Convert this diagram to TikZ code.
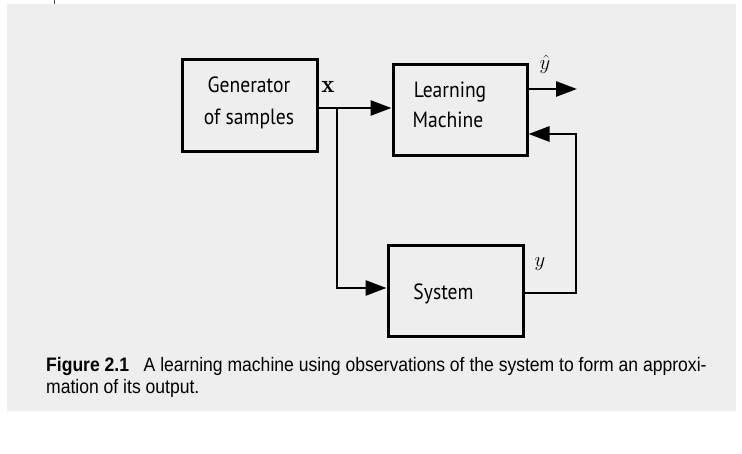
\documentclass[tikz,border=0pt]{standalone}
\usepackage{fontspec}
\usetikzlibrary{arrows.meta}
\newfontfamily\boxfont[FakeStretch=0.89]{PT Sans}
\newfontfamily\capfont[FakeStretch=0.9]{Liberation Sans}
\definecolor{pagegrey}{RGB}{238,238,238}
\begin{document}
\begin{tikzpicture}[x=1pt,y=-1pt,
  blk/.style={draw=black,line width=3pt,inner sep=0pt,fill=none},
  blktext/.style={font=\boxfont\fontsize{22}{30}\selectfont,anchor=base,inner sep=0pt},
  conn/.style={line width=2.7pt,draw=black},
  arr/.style={conn,-{Triangle[length=21pt,width=15pt]}},
  lbl/.style={inner sep=0pt},
  captxt/.style={font=\capfont\fontsize{19.5}{23}\selectfont,anchor=base west,inner sep=0pt}]
\useasboundingbox (0,0) rectangle (742,454);
\fill[white] (0,0) rectangle (742,454);
\fill[pagegrey] (7,4) rectangle (736,411);
\draw[line width=0.8pt,black!70] (54,0) -- (54,4);

% blocks
\node[blk,minimum width=135pt,minimum height=92pt] (gen) at (249.5,106) {};
\node[blk,minimum width=134pt,minimum height=91pt] (lm)  at (460,110.5) {};
\node[blk,minimum width=135pt,minimum height=91pt] (sys) at (455.5,291.5) {};

% block texts
\node[blktext] (gen1) at (249,93) {Generator};
\node[blktext] (gen2) at (249,125) {of samples};
\node[blktext] (lm1) at (450,98) {Learning};
\node[blktext] (lm2) at (448,128) {Machine};
\node[blktext] (systxt) at (443.5,300) {System};

% labels
\node[lbl,font=\fontsize{25}{28}\selectfont] (xl) at (328,87) {$\mathbf{x}$};
\node[lbl,font=\fontsize{21}{24}\selectfont] (yhl) at (545,64) {$\hat{y}$};
\node[lbl,font=\fontsize{21}{24}\selectfont] (yl) at (540,264) {$y$};

% connectors
\coordinate (br) at (337,108);
\coordinate (bs) at (337,288);
\coordinate (yout) at (577,89);
\coordinate (fbtop) at (576,134);
\coordinate (fbbot) at (576,293);
\draw[arr] (gen.east |- br) -- (lm.west |- br);
\draw[arr] (br) -- (bs) -- (sys.west |- bs);
\draw[arr] (lm.east |- yout) -- (yout);
\draw[arr,line join=miter] (sys.east |- fbbot) -- (fbbot) -- (fbtop) -- (lm.east |- fbtop);

% caption
\node[captxt] (cap1) at (46,371) {\textbf{Figure 2.1}\hspace{0.75em}A learning machine using observations of the system to form an approxi-};
\node[captxt] (cap2) at (46,394) {mation of its output.};
\end{tikzpicture}
\end{document}
